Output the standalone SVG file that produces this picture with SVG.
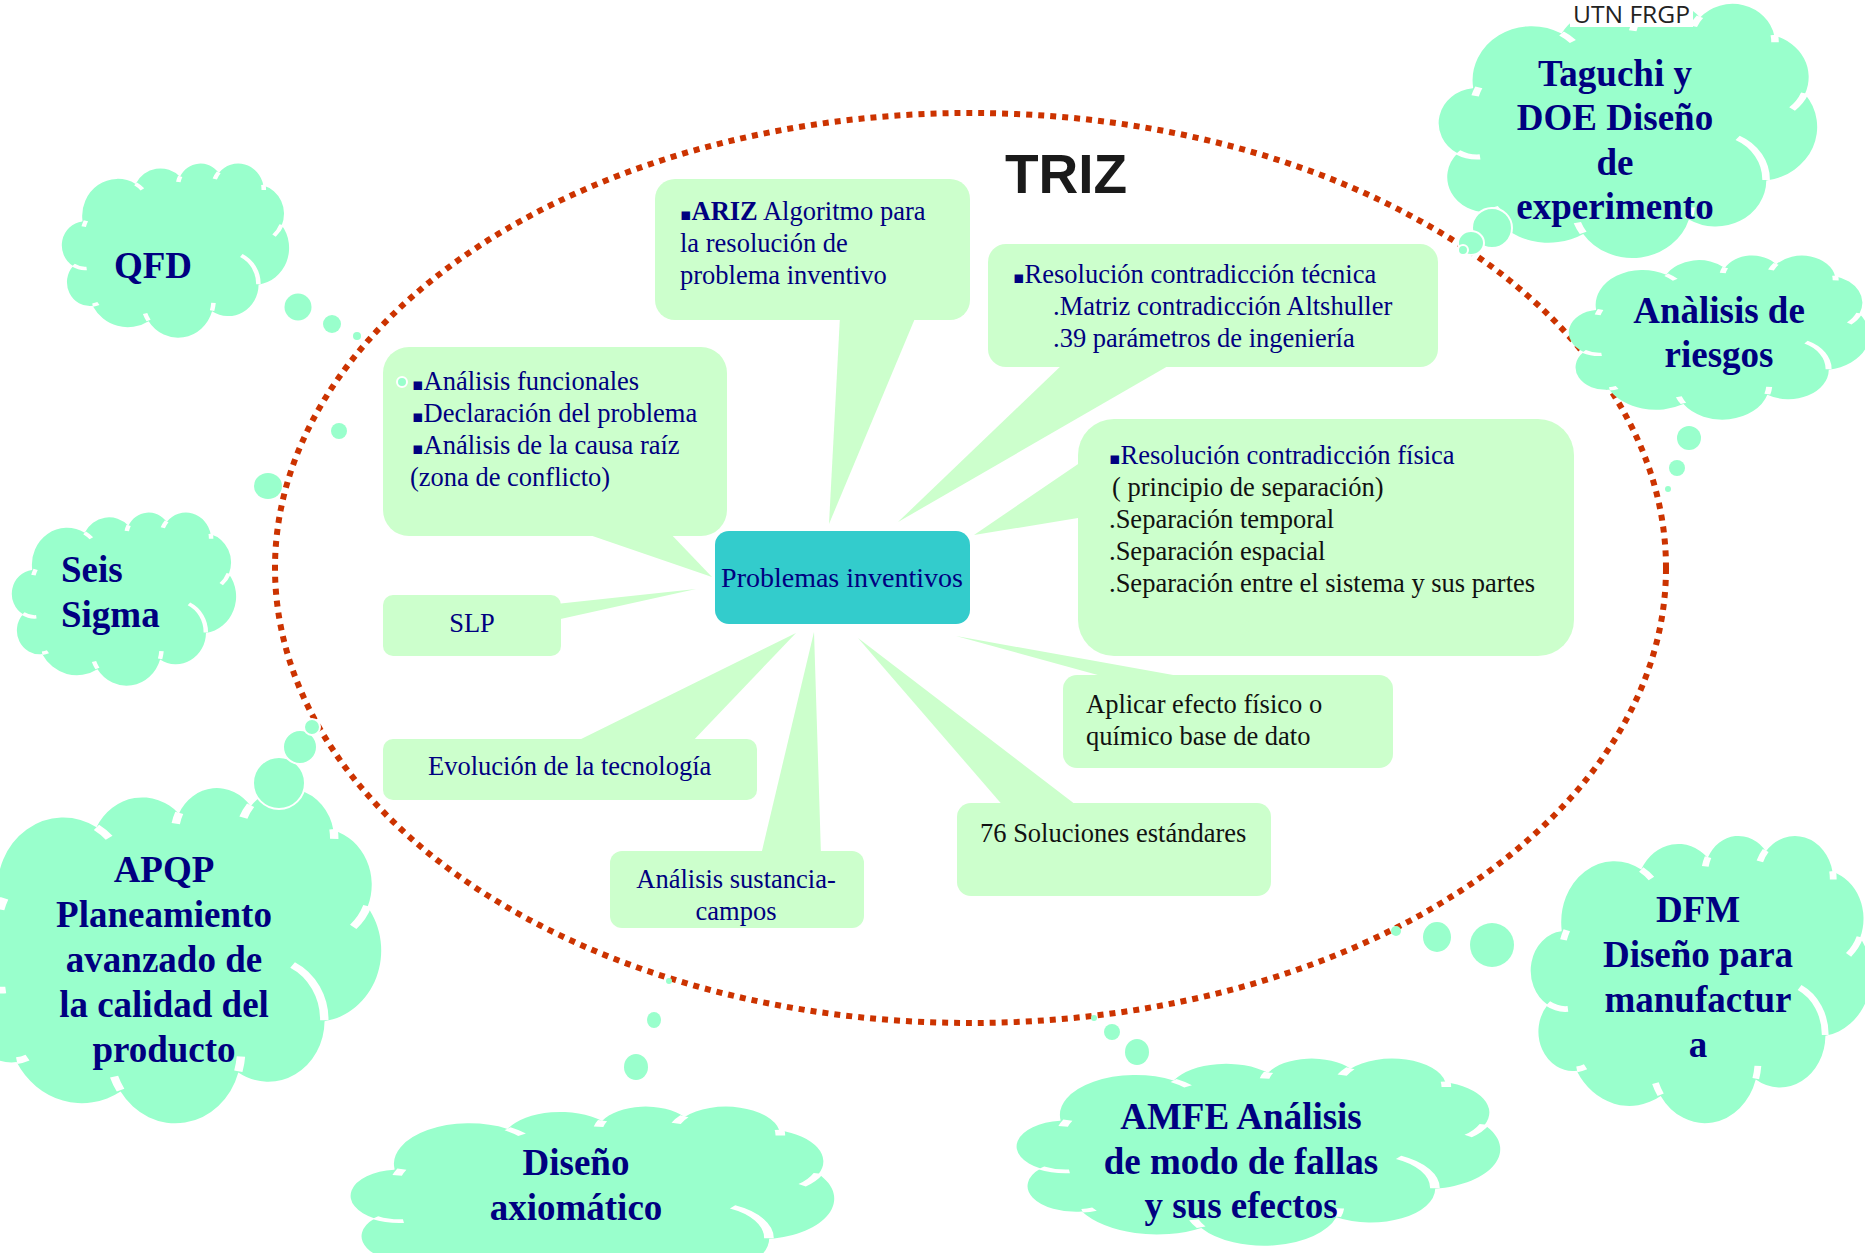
<svg xmlns="http://www.w3.org/2000/svg" xmlns:xlink="http://www.w3.org/1999/xlink" width="1865" height="1253" viewBox="0 0 1865 1253">
<style>
.cl{fill:#ccffcc}
.cf{fill:#99ffcc}
.bub{fill:#99ffcc}
.bubw{fill:#99ffcc;stroke:#ffffff;stroke-width:2}
.inner{fill:none;stroke:#ffffff;stroke-width:2;vector-effect:non-scaling-stroke}
.t{font-family:"Liberation Serif","Times New Roman",serif;font-size:26.5px;fill:#000080}
.tb{fill:#111111}
.ct{font-family:"Liberation Serif","Times New Roman",serif;font-size:37px;font-weight:bold;fill:#000080;text-anchor:middle}
.bl{font-family:"DejaVu Sans",sans-serif;font-size:17px}
</style>
<defs>
<path id="cloud" d="M9.03,33.26 A15.63,21.27 0 0 1 32.42,12.04 A12.34,16.82 0 0 1 51.98,7.95 A10.10,13.76 0 0 1 69.06,5.74 A11.24,15.27 0 0 1 88.70,12.91 A12.34,16.84 0 0 1 96.80,35.79 A15.68,21.34 0 0 1 86.59,69.92 A13.39,18.21 0 0 1 66.11,85.22 A15.63,21.33 0 0 1 38.15,90.90 A17.87,24.41 0 0 1 13.44,82.11 A10.09,13.70 0 0 1 4.90,59.15 A10.06,13.76 0 0 1 8.95,33.58 Z"/>
<path id="cloudIn" d="M10.86,60.59 A10.06,13.76 0 0 1 5.00,58.75 M16.04,80.78 A10.09,13.70 0 0 1 13.47,81.67 M38.14,90.49 A15.63,21.33 0 0 1 36.60,86.45 M66.73,80.44 A15.63,21.33 0 0 1 66.11,84.86 M79.00,53.13 A13.39,18.21 0 0 1 86.53,69.65 M96.75,35.54 A12.34,16.84 0 0 1 93.40,41.74 M88.71,12.56 A11.24,15.27 0 0 1 88.89,15.48 M67.31,9.15 A11.24,15.27 0 0 1 69.03,5.42 M51.25,10.93 A10.10,13.76 0 0 1 52.08,7.71 M32.41,12.02 A15.63,21.27 0 0 1 35.42,15.14 M9.55,36.55 A15.63,21.27 0 0 1 10.53,33.20"/>
</defs>
<rect width="1865" height="1253" fill="#ffffff"/>

<g id="triz-boundary">
<ellipse cx="970.5" cy="568" rx="695.5" ry="455" fill="none" stroke="#cc3300" stroke-width="6" stroke-dasharray="6 6"/>
</g>

<g id="connectors">
<polygon class="cl" points="840,316 916,316 829,524"/>
<polygon class="cl" points="1065,362 1175,362 898,522"/>
<polygon class="cl" points="575,530 667,530 712,577"/>
<polygon class="cl" points="556,604 556,620 696,589"/>
<polygon class="cl" points="571,744 690,744 796,633"/>
<polygon class="cl" points="761,855 821,855 814,632"/>
<polygon class="cl" points="1005,808 1080,808 858,638"/>
<polygon class="cl" points="1116,680 1201,680 956,636"/>
<polygon class="cl" points="1084,460 1084,517 974,535"/>
</g>

<g id="ariz">
<rect class="cl" x="655" y="179" width="315" height="141" rx="20"/>
<text class="t" x="680" y="220"><tspan class="bl">▪</tspan><tspan font-weight="bold">ARIZ</tspan> Algoritmo para</text>
<text class="t" x="680" y="252">la resolución de</text>
<text class="t" x="680" y="284">problema inventivo</text>
</g>

<g id="tecnica">
<rect class="cl" x="988" y="244" width="450" height="123" rx="18"/>
<text class="t" x="1013" y="283"><tspan class="bl">▪</tspan>Resolución contradicción técnica</text>
<text class="t" x="1053" y="315">.Matriz contradicción Altshuller</text>
<text class="t" x="1053" y="347">.39 parámetros de ingeniería</text>
</g>

<g id="funcionales">
<rect class="cl" x="383" y="347" width="344" height="189" rx="26"/>
<text class="t" x="412" y="390"><tspan class="bl">▪</tspan>Análisis funcionales</text>
<text class="t" x="412" y="422"><tspan class="bl">▪</tspan>Declaración del problema</text>
<text class="t" x="412" y="454"><tspan class="bl">▪</tspan>Análisis de la causa raíz</text>
<text class="t" x="410" y="486">(zona de conflicto)</text>
</g>

<g id="fisica">
<rect class="cl" x="1078" y="419" width="496" height="237" rx="36"/>
<text class="t" x="1109" y="464"><tspan class="bl">▪</tspan>Resolución contradicción física</text>
<text class="t tb" x="1112" y="496">( principio de separación)</text>
<text class="t tb" x="1109" y="528">.Separación temporal</text>
<text class="t tb" x="1109" y="560">.Separación espacial</text>
<text class="t tb" x="1109" y="592">.Separación entre el sistema y sus partes</text>
</g>

<g id="slp">
<rect class="cl" x="383" y="595" width="178" height="61" rx="10"/>
<text class="t" x="472" y="632" text-anchor="middle">SLP</text>
</g>

<g id="evolucion">
<rect class="cl" x="383" y="739" width="374" height="61" rx="10"/>
<text class="t" x="428" y="775">Evolución de la tecnología</text>
</g>

<g id="sustancia">
<rect class="cl" x="610" y="851" width="254" height="77" rx="12"/>
<text class="t" x="736" y="888" text-anchor="middle">Análisis sustancia-</text>
<text class="t" x="736" y="920" text-anchor="middle">campos</text>
</g>

<g id="soluciones">
<rect class="cl" x="957" y="803" width="314" height="93" rx="14"/>
<text class="t tb" x="980" y="842">76 Soluciones estándares</text>
</g>

<g id="aplicar">
<rect class="cl" x="1063" y="675" width="330" height="93" rx="14"/>
<text class="t tb" x="1086" y="713">Aplicar efecto físico o</text>
<text class="t tb" x="1086" y="745">químico base de dato</text>
</g>

<g id="problemas-inventivos">
<rect x="715" y="531" width="255" height="93" rx="14" fill="#33cccc"/>
<text class="t" x="842" y="587" text-anchor="middle" style="font-size:28px">Problemas inventivos</text>
</g>

<g id="title">
<text x="1005" y="193" font-family="'Liberation Sans',Arial,sans-serif" font-weight="bold" font-size="55" fill="#1a1a1a">TRIZ</text>
</g>

<g id="qfd">
<use href="#cloud" class="cf" transform="translate(62,163) scale(2.27,1.74)"/>
<use href="#cloudIn" class="inner" transform="translate(62,163) scale(2.27,1.74)"/>
<circle class="bub" cx="298" cy="307" r="13.5"/>
<circle class="bub" cx="332" cy="324" r="9"/>
<circle class="bub" cx="357" cy="336" r="4"/>
<circle class="bubw" cx="402" cy="382" r="5"/>
<text class="ct" x="153" y="278">QFD</text>
</g>

<g id="seis-sigma">
<use href="#cloud" class="cf" transform="translate(12,512) scale(2.24,1.73)"/>
<use href="#cloudIn" class="inner" transform="translate(12,512) scale(2.24,1.73)"/>
<circle class="bub" cx="339" cy="431" r="8"/>
<ellipse class="bub" cx="268" cy="486" rx="14" ry="13"/>
<text class="ct" x="61" y="582" style="text-anchor:start">Seis</text>
<text class="ct" x="61" y="627" style="text-anchor:start">Sigma</text>
</g>

<g id="apqp">
<use href="#cloud" class="cf" transform="translate(-40,787) scale(4.21,3.35)"/>
<use href="#cloudIn" class="inner" transform="translate(-40,787) scale(4.21,3.35)"/>
<circle class="bubw" cx="279" cy="783" r="26"/>
<circle class="bubw" cx="300" cy="747" r="17"/>
<circle class="bubw" cx="312" cy="727" r="8"/>
<text class="ct" x="164" y="882">APQP</text>
<text class="ct" x="164" y="927">Planeamiento</text>
<text class="ct" x="164" y="972">avanzado de</text>
<text class="ct" x="164" y="1017">la calidad del</text>
<text class="ct" x="164" y="1062">producto</text>
</g>

<g id="diseno-axiomatico">
<use href="#cloud" class="cf" transform="translate(351,1106) scale(4.83,1.9)"/>
<use href="#cloudIn" class="inner" transform="translate(351,1106) scale(4.83,1.9)"/>
<ellipse class="bub" cx="636" cy="1067" rx="12" ry="13"/>
<ellipse class="bub" cx="654" cy="1020" rx="7" ry="8"/>
<circle class="bub" cx="669" cy="981" r="3"/>
<text class="ct" x="576" y="1175">Diseño</text>
<text class="ct" x="576" y="1220">axiomático</text>
</g>

<g id="amfe">
<use href="#cloud" class="cf" transform="translate(1017,1058) scale(4.83,1.87)"/>
<use href="#cloudIn" class="inner" transform="translate(1017,1058) scale(4.83,1.87)"/>
<ellipse class="bub" cx="1137" cy="1052" rx="12" ry="13"/>
<circle class="bub" cx="1112" cy="1032" r="8"/>
<circle class="bub" cx="1094" cy="1018" r="3"/>
<text class="ct" x="1241" y="1129">AMFE Análisis</text>
<text class="ct" x="1241" y="1174">de modo de fallas</text>
<text class="ct" x="1241" y="1218">y sus efectos</text>
</g>

<g id="dfm">
<use href="#cloud" class="cf" transform="translate(1531,835) scale(3.4,2.87)"/>
<use href="#cloudIn" class="inner" transform="translate(1531,835) scale(3.4,2.87)"/>
<circle class="bub" cx="1492" cy="945" r="22"/>
<ellipse class="bub" cx="1437" cy="937" rx="14" ry="15"/>
<circle class="bub" cx="1396" cy="931" r="5"/>
<text class="ct" x="1698" y="922">DFM</text>
<text class="ct" x="1698" y="967">Diseño para</text>
<text class="ct" x="1698" y="1012">manufactur</text>
<text class="ct" x="1698" y="1057">a</text>
</g>

<g id="analisis-riesgos">
<use href="#cloud" class="cf" transform="translate(1569,255) scale(3.0,1.64)"/>
<use href="#cloudIn" class="inner" transform="translate(1569,255) scale(3.0,1.64)"/>
<circle class="bub" cx="1689" cy="438" r="12"/>
<circle class="bub" cx="1677" cy="468" r="8"/>
<circle class="bub" cx="1668" cy="489" r="3"/>
<text class="ct" x="1719" y="323">Anàlisis de</text>
<text class="ct" x="1719" y="367">riesgos</text>
</g>

<g id="taguchi">
<use href="#cloud" class="cf" transform="translate(1439,3) scale(3.78,2.54)"/>
<use href="#cloudIn" class="inner" transform="translate(1439,3) scale(3.78,2.54)"/>
<circle class="bubw" cx="1492" cy="228" r="20"/>
<ellipse class="bubw" cx="1471" cy="243" rx="13" ry="12"/>
<circle class="bubw" cx="1463" cy="250" r="5"/>
<text class="ct" x="1615" y="86">Taguchi y</text>
<text class="ct" x="1615" y="130">DOE Diseño</text>
<text class="ct" x="1615" y="175">de</text>
<text class="ct" x="1615" y="219">experimento</text>
</g>

<g id="utn-frgp">
<rect x="1570" y="0" width="123" height="27" fill="#ffffff"/>
<text x="1573" y="23" font-family="'Open Sans','Noto Sans',sans-serif" font-size="23" fill="#222222" textLength="117" lengthAdjust="spacingAndGlyphs">UTN FRGP</text>
</g>
</svg>
